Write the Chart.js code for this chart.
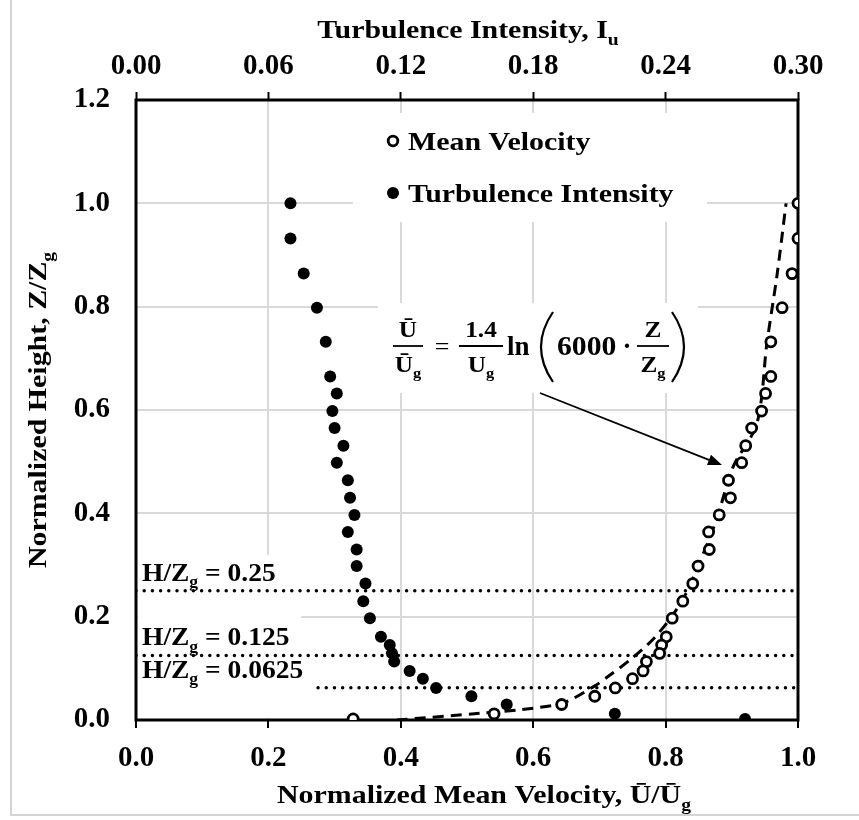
<!DOCTYPE html>
<html>
<head>
<meta charset="utf-8">
<script src="https://cdn.jsdelivr.net/npm/chart.js@4.4.1/dist/chart.umd.min.js"></script>
<style>
  html, body { margin: 0; padding: 0; background: #fff; }
  #wrap { width: 859px; height: 820px; }
</style>
</head>
<body>
<div id="wrap"><canvas id="profileChart" width="859" height="820"></canvas></div>
<script>
// normalized height Z/Zg of each measuring point
const heights = [1.000, 0.932, 0.864, 0.798, 0.732, 0.665, 0.632, 0.598, 0.565, 0.531, 0.498, 0.464, 0.430, 0.397, 0.364, 0.330,
  0.298, 0.264, 0.230, 0.197, 0.161, 0.145, 0.129, 0.113, 0.095, 0.080, 0.062, 0.046, 0.030, 0.012, 0.002];
// U/Ug (bottom axis)
const meanVelocity = [1.000, 1.000, 0.991, 0.976, 0.959, 0.959, 0.951, 0.945, 0.930, 0.921, 0.915, 0.895, 0.898, 0.881, 0.865, 0.866,
  0.849, 0.841, 0.826, 0.810, 0.801, 0.794, 0.791, 0.771, 0.766, 0.750, 0.724, 0.693, 0.643, 0.541, 0.328];
// Iu (top axis)
const turbIntensity = [0.070, 0.070, 0.076, 0.082, 0.086, 0.088, 0.091, 0.089, 0.090, 0.094, 0.091, 0.096, 0.097, 0.099, 0.096, 0.100,
  0.100, 0.104, 0.103, 0.106, 0.111, 0.115, 0.116, 0.117, 0.124, 0.130, 0.136, 0.152, 0.168, 0.217, 0.276];
// log-law fit
const fitVelocity = [0.394, 0.520, 0.580, 0.645, 0.693, 0.715, 0.745, 0.780, 0.809, 0.832, 0.875, 0.902, 0.938, 0.953, 0.968, 0.982];
const fitHeight = [0.000, 0.013, 0.020, 0.033, 0.066, 0.086, 0.115, 0.155, 0.200, 0.248, 0.381, 0.490, 0.574, 0.729, 0.858, 1.000];
// building heights H/Zg (dotted lines)
const roofLevels = [0.25, 0.125, 0.0625];
const roofLineStart = [0, 0, 0.275];
const roofLabels = ["0.25", "0.125", "0.0625"];

const velocityTicks = [0, 0.2, 0.4, 0.6, 0.8, 1.0];
const intensityTicks = [0, 0.06, 0.12, 0.18, 0.24, 0.30];
const heightTicks = [0, 0.2, 0.4, 0.6, 0.8, 1.0, 1.2];

const SERIF = "'Liberation Serif', 'Times New Roman', serif";
const GRID = "#d9d9d9";

// text with optional subscript pieces, y is the baseline
function drawRuns(ctx, runs, x, y, size, opts) {
  const o = Object.assign({ align: "left", sx: 1, weight: "bold" }, opts);
  const subSize = Math.round(size * 0.65);
  ctx.save();
  let w = 0;
  runs.forEach(([t, sub]) => {
    ctx.font = o.weight + " " + (sub ? subSize : size) + "px " + SERIF;
    w += ctx.measureText(t).width;
  });
  let cx = o.align === "center" ? -w / 2 : o.align === "right" ? -w : 0;
  ctx.translate(x, y);
  ctx.scale(o.sx, 1);
  ctx.textAlign = "left";
  ctx.textBaseline = "alphabetic";
  ctx.fillStyle = "#000";
  runs.forEach(([t, sub]) => {
    ctx.font = o.weight + " " + (sub ? subSize : size) + "px " + SERIF;
    ctx.fillText(t, cx, sub ? size * 0.25 : 0);
    cx += ctx.measureText(t).width;
  });
  ctx.restore();
}

function fraction(ctx, top, bottom, cx, barY, halfW, size) {
  drawRuns(ctx, top, cx, barY - 9, size, { align: "center", sx: 1.1 });
  drawRuns(ctx, bottom, cx, barY + 26, size, { align: "center", sx: 1.1 });
  ctx.save();
  ctx.strokeStyle = "#000";
  ctx.lineWidth = 1.8;
  ctx.beginPath();
  ctx.moveTo(cx - halfW, barY);
  ctx.lineTo(cx + halfW, barY);
  ctx.stroke();
  ctx.restore();
}

function paren(ctx, xEnd, xMid, yTop, yBot) {
  ctx.save();
  ctx.strokeStyle = "#000";
  ctx.lineWidth = 2.2;
  ctx.beginPath();
  ctx.moveTo(xEnd, yTop);
  ctx.quadraticCurveTo(2 * xMid - xEnd, (yTop + yBot) / 2, xEnd, yBot);
  ctx.stroke();
  ctx.restore();
}

const annotations = {
  id: "annotations",
  beforeDatasetsDraw(chart) {
    const ctx = chart.ctx;
    const a = chart.chartArea;
    ctx.save();
    // white boxes behind the texts hide the grid
    ctx.fillStyle = "#fff";
    ctx.fillRect(353, 113, 354, 109);
    ctx.fillRect(378, 303, 320, 90);
    ctx.fillRect(a.left + 2, 555, 163, a.bottom - 557);
    ctx.fillRect(a.left + 2, 660, 176, a.bottom - 662);
    // frame of the plot
    ctx.strokeStyle = "#000";
    ctx.lineWidth = 3;
    ctx.strokeRect(a.left, a.top, a.right - a.left, a.bottom - a.top);
    ctx.restore();
  },
  afterDraw(chart) {
    const ctx = chart.ctx;
    const sx = 1.15;
    // axis titles
    drawRuns(ctx, [["Turbulence Intensity, I"], ["u", true]], 468, 38, 26, { align: "center", sx });
    drawRuns(ctx, [["Normalized Mean Velocity, \u016A/\u016A"], ["g", true]], 277, 803, 26, { sx });
    ctx.save();
    ctx.translate(46, 410);
    ctx.rotate(-Math.PI / 2);
    drawRuns(ctx, [["Normalized Height, Z/Z"], ["g", true]], 0, 0, 26, { align: "center", sx });
    ctx.restore();

    // legend
    ctx.save();
    ctx.lineWidth = 2.8;
    ctx.strokeStyle = "#000";
    ctx.fillStyle = "#fff";
    ctx.beginPath();
    ctx.arc(393, 141, 4.8, 0, Math.PI * 2);
    ctx.fill();
    ctx.stroke();
    ctx.fillStyle = "#000";
    ctx.beginPath();
    ctx.arc(393, 193, 6, 0, Math.PI * 2);
    ctx.fill();
    ctx.restore();
    drawRuns(ctx, [["Mean Velocity"]], 408, 150, 26, { sx });
    drawRuns(ctx, [["Turbulence Intensity"]], 408, 202, 26, { sx });

    // building height labels
    const yScale = chart.scales.y;
    roofLevels.forEach((h, i) => {
      const y = yScale.getPixelForValue(h);
      drawRuns(ctx, [["H/Z"], ["g", true], [" = " + roofLabels[i]]], 142, y - 10, 25, { sx: 1.1 });
    });

    // log-law equation
    fraction(ctx, [["\u016A"]], [["\u016A"], ["g", true]], 408, 346, 15, 23);
    drawRuns(ctx, [["="]], 442, 355, 26, { align: "center", weight: "normal" });
    fraction(ctx, [["1.4"]], [["U"], ["g", true]], 481, 346, 22, 23);
    drawRuns(ctx, [["ln"]], 507, 355, 27, {});
    paren(ctx, 553, 541, 312, 382);
    drawRuns(ctx, [["6000"]], 557, 355, 27, { sx: 1.1 });
    drawRuns(ctx, [["\u00B7"]], 627, 355, 27, { align: "center" });
    fraction(ctx, [["Z"]], [["Z"], ["g", true]], 653, 346, 16, 23);
    paren(ctx, 672, 684, 312, 382);

    // arrow to the fitted curve
    ctx.save();
    const x0 = 540, y0 = 393, x1 = 722, y1 = 465;
    const ang = Math.atan2(y1 - y0, x1 - x0);
    ctx.strokeStyle = "#000";
    ctx.fillStyle = "#000";
    ctx.lineWidth = 1.8;
    ctx.beginPath();
    ctx.moveTo(x0, y0);
    ctx.lineTo(x1 - 10 * Math.cos(ang), y1 - 10 * Math.sin(ang));
    ctx.stroke();
    ctx.beginPath();
    ctx.moveTo(x1, y1);
    ctx.lineTo(x1 - 14 * Math.cos(ang) + 5.5 * Math.sin(ang), y1 - 14 * Math.sin(ang) - 5.5 * Math.cos(ang));
    ctx.lineTo(x1 - 14 * Math.cos(ang) - 5.5 * Math.sin(ang), y1 - 14 * Math.sin(ang) + 5.5 * Math.cos(ang));
    ctx.closePath();
    ctx.fill();

    // light outer frame of the figure
    ctx.strokeStyle = "#d4d4d4";
    ctx.lineWidth = 2;
    ctx.beginPath();
    ctx.moveTo(11, 0);
    ctx.lineTo(11, 815);
    ctx.lineTo(859, 815);
    ctx.stroke();
    ctx.restore();
  }
};

const tickFont = { family: SERIF, size: 29, weight: "bold" };

const roofDatasets = roofLevels.map((h, i) => ({
  label: "H/Zg = " + roofLabels[i],
  data: [{ x: roofLineStart[i], y: h }, { x: 1, y: h }],
  showLine: true,
  borderColor: "#000",
  borderWidth: 3.5,
  borderDash: [0, 8.2],
  borderCapStyle: "round",
  pointRadius: 0
}));

const ctx = document.getElementById("profileChart").getContext("2d");
const profileChart = new Chart(ctx, {
  type: "scatter",
  data: {
    datasets: [
      {
        label: "Mean Velocity",
        data: heights.map((z, i) => ({ x: meanVelocity[i], y: z })),
        pointRadius: 5,
        pointHoverRadius: 5,
        borderWidth: 2.8,
        pointBorderWidth: 2.8,
        borderColor: "#000",
        backgroundColor: "#fff"
      },
      {
        label: "Turbulence Intensity",
        xAxisID: "x2",
        data: heights.map((z, i) => ({ x: turbIntensity[i], y: z })),
        pointRadius: 6,
        pointHoverRadius: 6,
        borderWidth: 0,
        borderColor: "#000",
        backgroundColor: "#000"
      },
      {
        label: "Log law",
        data: fitHeight.map((z, i) => ({ x: fitVelocity[i], y: z })),
        showLine: true,
        borderColor: "#000",
        borderWidth: 3,
        borderDash: [11, 7],
        tension: 0.3,
        pointRadius: 0
      },
      ...roofDatasets
    ]
  },
  options: {
    responsive: false,
    animation: false,
    devicePixelRatio: 1,
    layout: { padding: { left: 0, right: 61, top: 0, bottom: 0 } },
    plugins: {
      legend: { display: false },
      tooltip: { enabled: false }
    },
    scales: {
      x: {
        type: "linear",
        position: "bottom",
        min: 0,
        max: 1,
        afterBuildTicks: (s) => { s.ticks = velocityTicks.map((value) => ({ value })); },
        afterFit: (s) => { s.height = 100; },
        border: { display: false },
        grid: { color: GRID, lineWidth: 2, tickColor: "#000", tickWidth: 2, tickLength: 8 },
        ticks: { color: "#000", font: tickFont, padding: 13, maxRotation: 0, callback: (v) => v.toFixed(1) }
      },
      x2: {
        type: "linear",
        position: "top",
        min: 0,
        max: 0.3,
        afterBuildTicks: (s) => { s.ticks = intensityTicks.map((value) => ({ value })); },
        afterFit: (s) => { s.height = 100; },
        border: { display: false },
        grid: { drawOnChartArea: false, tickColor: "#000", tickWidth: 2, tickLength: 8 },
        ticks: { color: "#000", font: tickFont, padding: 8, maxRotation: 0, callback: (v) => v.toFixed(2) }
      },
      y: {
        type: "linear",
        min: 0,
        max: 1.2,
        afterBuildTicks: (s) => { s.ticks = heightTicks.map((value) => ({ value })); },
        afterFit: (s) => { s.width = 136; },
        border: { display: false },
        grid: { color: GRID, lineWidth: 2, drawTicks: false },
        ticks: { color: "#000", font: tickFont, padding: 26, callback: (v) => v.toFixed(1) }
      }
    }
  },
  plugins: [annotations]
});
</script>
</body>
</html>
